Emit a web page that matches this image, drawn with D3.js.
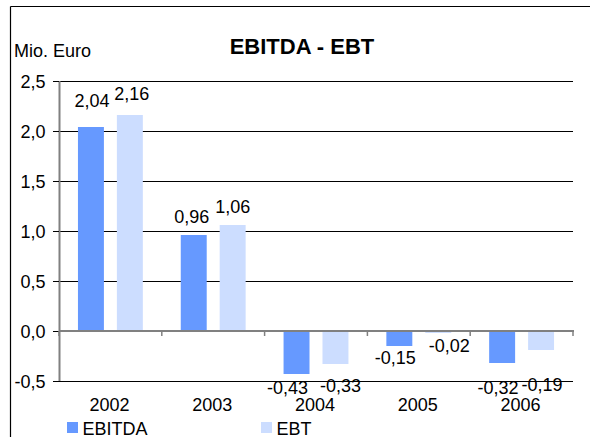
<!DOCTYPE html>
<html><head><meta charset="utf-8">
<script src="https://cdn.jsdelivr.net/npm/d3@7"></script>
<style>body{margin:0;background:#fff}svg{display:block;font-family:"Liberation Sans",Arial,sans-serif}</style>
</head><body>
<svg id="c" width="590" height="437"></svg>
<script>
const years = ["2002","2003","2004","2005","2006"];
const seriesNames = ["EBITDA","EBT"];
const ebitda = [2.04, 0.96, -0.43, -0.15, -0.32];
const ebt = [2.16, 1.06, -0.33, -0.02, -0.19];
const yTicks = [-0.5, 0, 0.5, 1.0, 1.5, 2.0, 2.5];
const colors = ["#6699ff", "#ccddff"];
// label placement tweaks (pixels): gap from bar end to label centre, horizontal shift
const labelGap = [[26,18,14,12,25],[21,18,22,13,35]];
const labelShift = [[1,-2,-9,-4,-4],[2,0,5,11,1]];

const svg = d3.select("#c");
const fmt = v => v.toFixed(2).replace(".", ",");
const fmtTick = v => v.toFixed(1).replace(".", ",");

const x0 = d3.scaleBand().domain(years).range([59, 573]).padding(0);
const x1 = d3.scaleBand().domain(seriesNames).range([0, x0.bandwidth()]).paddingInner(1/3).paddingOuter(0.487);
const y = d3.scaleLinear().domain([-0.5, 2.5]).range([381, 81]);

// outer frame
svg.append("line").attr("x1",10.5).attr("x2",590).attr("y1",6.5).attr("y2",6.5).attr("stroke","#000").attr("stroke-width",1.2);
svg.append("line").attr("x1",10.5).attr("x2",10.5).attr("y1",6.5).attr("y2",437).attr("stroke","#000").attr("stroke-width",1.2);

// gridlines
svg.append("g").selectAll("line").data(yTicks.filter(t => t !== 0)).join("line")
  .attr("x1", 53).attr("x2", 573).attr("y1", d => Math.round(y(d)) + 0.5).attr("y2", d => Math.round(y(d)) + 0.5)
  .attr("stroke", "#000").attr("stroke-width", 1);

// y axis
const yAxis = d3.axisLeft(y).tickValues(yTicks).tickSize(0).tickPadding(14).tickFormat(fmtTick);
const ga = svg.append("g").attr("transform", "translate(59.5,0)").call(yAxis);
ga.select(".domain").remove();
ga.selectAll("text").attr("font-size", 18).attr("fill", "#000").attr("font-family", "Liberation Sans, Arial, sans-serif").attr("dy", "0.36em");

// bars
const data = years.map((yr, i) => ({yr, vals: [ebitda[i], ebt[i]]}));
const groups = svg.append("g").selectAll("g").data(data).join("g")
  .attr("transform", d => `translate(${x0(d.yr)},0)`);
groups.selectAll("rect").data(d => d.vals.map((v, j) => ({v, j}))).join("rect")
  .attr("x", d => x1(seriesNames[d.j]))
  .attr("width", x1.bandwidth())
  .attr("y", d => y(Math.max(0, d.v)))
  .attr("height", d => Math.abs(y(d.v) - y(0)))
  .attr("fill", d => colors[d.j]);

// zero line & y axis line
svg.append("line").attr("x1", 59).attr("x2", 574).attr("y1", y(0)).attr("y2", y(0)).attr("stroke", "#808080").attr("stroke-width", 2);
svg.append("line").attr("x1", 59.5).attr("x2", 59.5).attr("y1", y(2.5)).attr("y2", y(-0.5)).attr("stroke", "#808080").attr("stroke-width", 2);
// y ticks
svg.append("g").selectAll("line").data(yTicks).join("line")
  .attr("x1", 53).attr("x2", 59).attr("y1", d => Math.round(y(d)) + 0.5).attr("y2", d => Math.round(y(d)) + 0.5)
  .attr("stroke", "#000");
// category ticks
const bounds = years.map(yr => x0(yr)).concat([x0.range()[1]]);
svg.append("g").selectAll("line").data(bounds).join("line")
  .attr("x1", d => d).attr("x2", d => d).attr("y1", y(0)).attr("y2", y(0) + 5)
  .attr("stroke", "#808080").attr("stroke-width", 1.5);

// value labels
groups.selectAll("text.v").data((d, i) => d.vals.map((v, j) => ({v, j, i}))).join("text")
  .attr("class", "v")
  .attr("x", d => x1(seriesNames[d.j]) + x1.bandwidth() / 2 + labelShift[d.j][d.i])
  .attr("y", d => d.v >= 0 ? y(d.v) - labelGap[d.j][d.i] : y(d.v) + labelGap[d.j][d.i])
  .attr("dy", "0.36em")
  .attr("text-anchor", "middle").attr("font-size", 18).attr("fill", "#000")
  .text(d => fmt(d.v));

// year labels
svg.append("g").selectAll("text").data(years).join("text")
  .attr("x", d => x0(d) + x0.bandwidth() / 2 - 1).attr("y", 411)
  .attr("text-anchor", "middle").attr("font-size", 18).attr("fill", "#000")
  .text(d => d);

// title & unit
svg.append("text").attr("x", 302).attr("y", 54).attr("text-anchor", "middle")
  .attr("font-size", 22).attr("font-weight", "bold").text("EBITDA - EBT");
svg.append("text").attr("x", 14).attr("y", 56.5).attr("font-size", 18).text("Mio. Euro");

// legend
const legX = [67, 261];
const lg = svg.append("g").selectAll("g").data(seriesNames).join("g")
  .attr("transform", (d, i) => `translate(${legX[i]},422)`);
lg.append("rect").attr("width", 11).attr("height", 11).attr("fill", (d, i) => colors[i]);
lg.append("text").attr("x", 15.5).attr("y", 12.5).attr("font-size", 18).text(d => d);
</script>
</body></html>
